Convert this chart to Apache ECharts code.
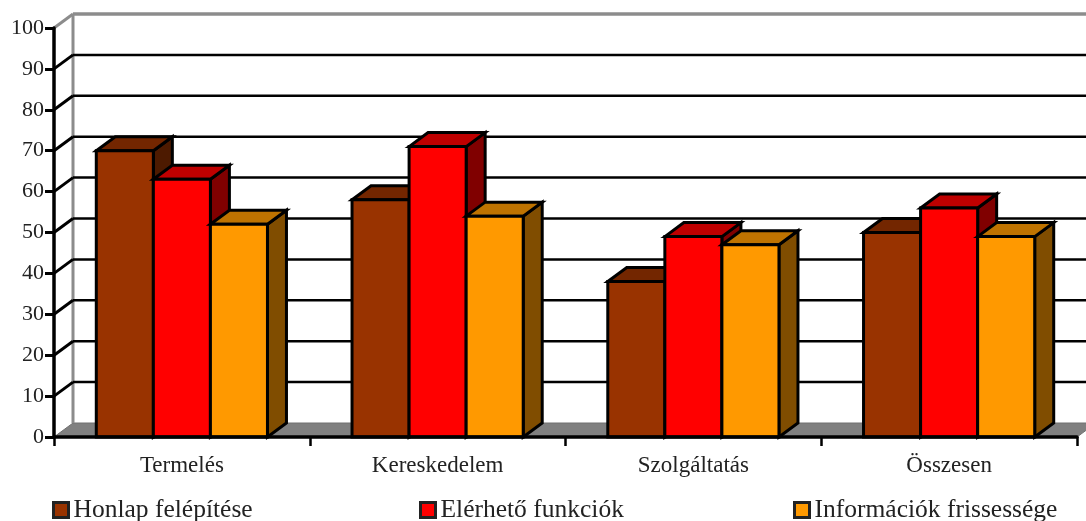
<!DOCTYPE html>
<html>
<head>
<meta charset="utf-8">
<style>
html, body { margin: 0; padding: 0; background: #fff; }
#chart { width: 1086px; height: 521px; }
</style>
<script src="https://cdn.jsdelivr.net/npm/echarts@6/dist/echarts.min.js"></script>
</head>
<body>
<div id="chart"></div>
<script>
const categories = ["Termelés", "Kereskedelem", "Szolgáltatás", "Összesen"];
const honlap = [70, 58, 38, 50];
const funkciok = [63, 71, 49, 56];
const frissesseg = [52, 54, 47, 49];
const yTicks = [0, 10, 20, 30, 40, 50, 60, 70, 80, 90, 100];

// depth of the fake 3D box, px
const DX = 19;
const DY = 14;
const FONT = '"Liberation Serif", serif';

function renderWall(params, api) {
    const cs = params.coordSys;
    const t = api.value(1);
    const y = api.coord([0, t])[1];
    const left = cs.x;
    const right = cs.x + cs.width;
    const kids = [];
    if (t === 0) {
        kids.push({
            type: "polygon",
            shape: { points: [[left, y], [left + DX, y - DY], [right + DX, y - DY], [right, y]] },
            style: { fill: "#808080", stroke: "#707070", lineWidth: 1 },
        });
        kids.push({
            type: "line",
            shape: { x1: left + DX, y1: y - DY, x2: left + DX, y2: cs.y - DY },
            style: { stroke: "#8c8c8c", lineWidth: 3 },
        });
        return { type: "group", children: kids };
    }
    const color = t === 100 ? "#8c8c8c" : "#000";
    kids.push({
        type: "line",
        shape: { x1: left, y1: y, x2: left + DX, y2: y - DY },
        style: { stroke: color, lineWidth: 3 },
    });
    kids.push({
        type: "line",
        shape: { x1: left + DX, y1: y - DY, x2: right + DX, y2: y - DY },
        style: { stroke: color, lineWidth: t === 100 ? 3.5 : 2.5 },
    });
    return { type: "group", children: kids };
}

function barRenderer(offset, topColor, sideColor, frontColor) {
    return function (params, api) {
        const p = api.coord([api.value(0), api.value(1)]);
        const base = api.coord([api.value(0), 0]);
        const band = api.size([1, 0])[0];
        const w = band * 0.2231;
        const x = p[0] + (offset - 0.5) * w;
        const y = p[1];
        const line = { stroke: "#000", lineWidth: 3, lineJoin: "miter" };
        return {
            type: "group",
            children: [
                {
                    type: "polygon",
                    shape: { points: [[x + w, y], [x + w + DX, y - DY], [x + w + DX, base[1] - DY], [x + w, base[1]]] },
                    style: Object.assign({ fill: sideColor }, line),
                },
                {
                    type: "polygon",
                    shape: { points: [[x, y], [x + DX, y - DY], [x + w + DX, y - DY], [x + w, y]] },
                    style: Object.assign({ fill: topColor }, line),
                },
                {
                    type: "rect",
                    shape: { x: x, y: y, width: w, height: base[1] - y },
                    style: Object.assign({ fill: frontColor }, line),
                },
            ],
        };
    };
}

function toPairs(arr) {
    return arr.map((v, i) => [i, v]);
}

function legendAt(left, name) {
    return {
        left: left,
        top: 492,
        data: [name],
        icon: "rect",
        itemWidth: 15,
        itemHeight: 15,
        itemStyle: { borderColor: "#222", borderWidth: 3 },
        textStyle: { fontFamily: FONT, fontSize: 25.5, color: "#222" },
        selectedMode: false,
    };
}

const chart = echarts.init(document.getElementById("chart"), null, { renderer: "canvas" });
chart.setOption({
    animation: false,
    backgroundColor: "#fff",
    legend: [
        legendAt(47, "Honlap felépítése"),
        legendAt(414, "Elérhető funkciók"),
        legendAt(788, "Információk frissessége"),
    ],
    grid: { left: 54, right: 9, top: 28, bottom: 84 },
    xAxis: {
        type: "category",
        data: categories,
        z: 10,
        axisLine: { lineStyle: { color: "#000", width: 3.5 } },
        axisTick: { show: true, length: 9, lineStyle: { color: "#000", width: 2.5 } },
        axisLabel: { fontFamily: FONT, fontSize: 23, color: "#222", margin: 17 },
    },
    yAxis: {
        type: "value",
        min: 0,
        max: 100,
        interval: 10,
        z: 10,
        axisLine: { show: true, lineStyle: { color: "#000", width: 3.5 } },
        axisTick: { show: true, length: 9, lineStyle: { color: "#000", width: 3 } },
        axisLabel: { fontFamily: FONT, fontSize: 22, color: "#222", margin: 10 },
        splitLine: { show: false },
    },
    series: [
        {
            type: "custom",
            silent: true,
            renderItem: renderWall,
            encode: { x: 0, y: 1 },
            data: yTicks.map((t) => [0, t]),
            clip: false,
        },
        {
            name: "Honlap felépítése",
            type: "custom",
            renderItem: barRenderer(-1, "#732600", "#4d1a00", "#993300"),
            encode: { x: 0, y: 1 },
            itemStyle: { color: "#993300" },
            data: toPairs(honlap),
        },
        {
            name: "Elérhető funkciók",
            type: "custom",
            renderItem: barRenderer(0, "#bf0000", "#800000", "#ff0000"),
            encode: { x: 0, y: 1 },
            itemStyle: { color: "#ff0000" },
            data: toPairs(funkciok),
        },
        {
            name: "Információk frissessége",
            type: "custom",
            renderItem: barRenderer(1, "#bf7300", "#804d00", "#ff9900"),
            encode: { x: 0, y: 1 },
            itemStyle: { color: "#ff9900" },
            data: toPairs(frissesseg),
        },
    ],
});
</script>
</body>
</html>
